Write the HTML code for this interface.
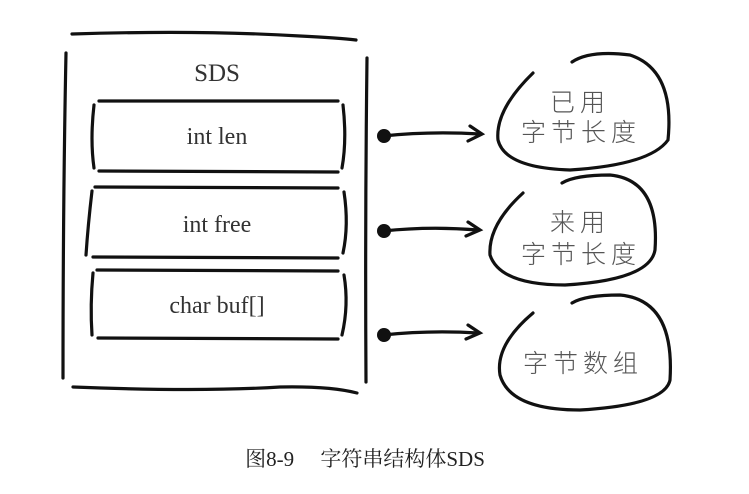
<!DOCTYPE html>
<html><head><meta charset="utf-8"><style>
body{margin:0;background:#fff;width:749px;height:494px;overflow:hidden}
svg{display:block}
</style></head><body>
<svg width="749" height="494" viewBox="0 0 749 494" xmlns="http://www.w3.org/2000/svg">
<g fill="none" stroke="#111" stroke-width="3.2" stroke-linecap="round">
<path d="M72 34 Q200 30 300 36 Q340 38 356 40"/>
<path d="M66 53 Q63 200 63 378"/>
<path d="M367 58 Q365 220 366 382"/>
<path d="M73 387 Q200 392 280 387 Q330 386 357 393"/>
<path d="M99 101 L338 101"/><path d="M99 171 L338 172"/>
<path d="M94 105 Q90 140 94 168"/><path d="M343 105 Q347 140 342 168"/>
<path d="M95 187 L338 188"/><path d="M93 257 L338 258"/>
<path d="M92 191 Q88 225 86 255"/><path d="M344 192 Q349 225 343 253"/>
<path d="M97 270 L338 271"/><path d="M98 338 L338 339"/>
<path d="M93 273 Q90 305 92 335"/><path d="M344 275 Q349 305 342 335"/>
<path d="M383 136 Q430 131 480 134"/><path d="M470 126 L482 134 L468 141"/>
<path d="M383 231 Q430 226 478 230"/><path d="M468 222 L480 230 L466 236"/>
<path d="M383 335 Q430 330 478 333"/><path d="M468 325 L480 333 L466 339"/>
<path d="M533 73 Q495 110 498 140 Q505 168 570 170 Q650 165 668 140 Q675 70 630 55 Q590 50 572 62"/>
<path d="M523 193 Q488 225 490 255 Q500 285 565 285 Q650 280 655 250 Q660 180 610 175 Q575 175 562 183"/>
<path d="M533 313 Q495 345 500 375 Q510 410 580 410 Q665 405 670 380 Q675 300 620 295 Q585 295 572 303"/>
</g>
<g fill="#111"><circle cx="384" cy="136" r="7"/><circle cx="384" cy="231" r="7"/><circle cx="384" cy="335" r="7"/></g>
<g font-family="'Liberation Serif',serif" fill="#333" text-anchor="middle">
<text x="217" y="81" font-size="25">SDS</text>
<text x="217" y="144" font-size="24">int len</text>
<text x="217" y="232" font-size="24">int free</text>
<text x="217" y="313" font-size="24">char buf[]</text>
</g>
<g font-family="'Liberation Sans','Noto Sans CJK SC',sans-serif" fill="#555" font-size="25" font-weight="300" text-anchor="middle" letter-spacing="5">
<text x="580" y="111">已用</text>
<text x="581" y="141">字节长度</text>
<text x="580" y="231">来用</text>
<text x="581" y="263">字节长度</text>
<text x="583" y="372">字节数组</text>
</g>
<text x="365" y="466" text-anchor="middle" font-family="'Liberation Serif','Noto Serif CJK SC',serif" font-size="21" fill="#222">图8-9　 字符串结构体SDS</text>
</svg>
</body></html>
